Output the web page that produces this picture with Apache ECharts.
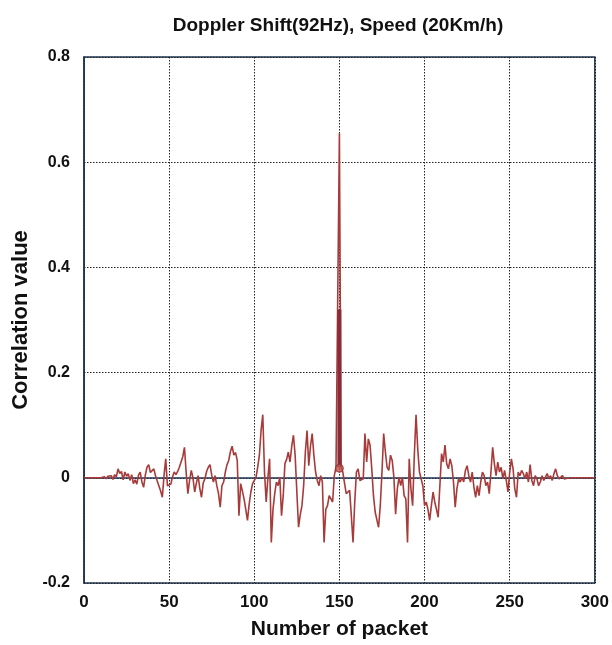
<!DOCTYPE html>
<html>
<head>
<meta charset="utf-8">
<script src="https://cdn.jsdelivr.net/npm/echarts@6/dist/echarts.min.js"></script>
<style>html,body{margin:0;padding:0;background:#fff;}#c{width:612px;height:645px;}</style>
</head>
<body>
<div id="c"></div>
<script>
// Correlation value for packets 0..300 (one value per packet)
const correlation = [
  0,0,0,0,0,0,0,0,0,0,0,0,
  0.002,-0.002,0.003,0.000,0.004,-0.003,0.006,0.002,0.017,0.008,
  0.012,-0.004,0.011,0.003,0.008,-0.005,0.006,-0.011,-0.004,-0.012,
  0.005,0.011,-0.008,-0.018,0.005,0.020,0.025,0.010,0.011,0.017,
  0.004,-0.006,-0.008,-0.025,-0.037,0.004,0.036,-0.015,-0.015,-0.012,
  0.002,0.011,0.006,0.012,0.020,0.030,0.040,0.058,0.010,-0.030,
  -0.005,0.014,0.000,-0.027,-0.010,0.004,-0.020,-0.037,-0.010,-0.002,
  0.012,0.020,0.025,0.005,-0.008,0.004,-0.015,-0.030,-0.056,-0.015,
  -0.008,0.011,0.025,0.033,0.050,0.060,0.043,0.048,0.033,-0.072,
  -0.011,-0.025,-0.040,-0.060,-0.081,-0.050,-0.027,-0.011,-0.008,
  0.001,0.020,0.043,0.090,0.120,0.011,-0.046,0.000,0.036,-0.123,
  -0.060,-0.030,-0.008,-0.015,0.001,-0.072,-0.034,0.027,0.035,0.049,
  0.030,0.060,0.081,0.043,-0.027,-0.094,-0.070,-0.053,-0.015,0.049,
  0.090,0.023,0.060,0.084,0.043,0.011,-0.005,-0.015,0.004,-0.008,
  -0.123,-0.060,-0.053,-0.034,-0.040,-0.046,0.004,0.020,0.023,
  0.655,
  0.020,0.011,-0.010,-0.030,-0.030,-0.024,-0.072,-0.123,-0.046,0.011,
  0.017,-0.005,-0.005,-0.002,0.084,0.030,0.074,0.062,0.017,-0.034,
  -0.065,-0.080,-0.094,-0.053,0.011,0.084,0.049,0.020,0.014,0.043,
  0.033,0.001,-0.069,-0.021,0.001,-0.015,0.001,-0.034,-0.040,-0.123,
  0.036,-0.021,-0.053,0.043,0.120,0.055,0.011,-0.002,-0.015,-0.053,
  -0.046,-0.060,-0.081,-0.053,-0.027,-0.046,-0.060,-0.075,-0.015,0.046,
  0.030,0.062,0.027,0.017,0.036,0.023,-0.008,-0.056,-0.021,-0.002,
  -0.008,0.001,-0.008,0.014,0.023,0.004,-0.008,0.011,-0.018,-0.037,
  -0.015,-0.034,-0.008,0.011,0.004,-0.015,-0.008,-0.030,0.011,0.058,
  0.027,0.004,0.030,0.011,0.020,-0.002,0.014,-0.005,-0.027,0.010,
  0.036,0.017,-0.021,-0.037,0.011,0.004,0.014,0.008,-0.002,0.011,
  -0.008,0.025,-0.005,-0.015,0.004,-0.002,-0.015,-0.008,0.004,-0.005,
  0.001,0.008,-0.002,0.004,-0.005,0.008,0.017,0.004,-0.002,0.001,
  0.004,-0.002,0.001,-0.001,0.001,
  0,0,0,0,0,0,0,0,0,0,0,0,0,0,0
];
const packets = correlation.map((_, i) => i);
// thick stem at the main peak
const stemX = [150, 150];
const stemY = [0.02, 0.32];
// circle marker near the peak base
const markerX = [150];
const markerY = [0.018];
// axis ranges / ticks
const xTicks = [0, 50, 100, 150, 200, 250, 300];
const yTicks = [-0.2, 0, 0.2, 0.4, 0.6, 0.8];

const chart = echarts.init(document.getElementById('c'));
const font = '"Liberation Sans", Arial, sans-serif';
chart.setOption({
  animation: false,
  backgroundColor: '#ffffff',
  title: {
    text: 'Doppler Shift(92Hz), Speed (20Km/h)',
    left: 333, top: 11, textAlign: 'center',
    textStyle: {fontFamily: font, fontWeight: 'bold', fontSize: 19, color: '#111'}
  },
  grid: {left: 84, right: 15, top: 57, bottom: 62, show: true, borderColor: '#1d3550', borderWidth: 1.5, backgroundColor: '#fff'},
  xAxis: {
    type: 'value', min: xTicks[0], max: xTicks[xTicks.length - 1], interval: 50,
    name: 'Number of packet', nameLocation: 'middle', nameGap: 36,
    nameTextStyle: {fontFamily: font, fontWeight: 'bold', fontSize: 21, color: '#111'},
    axisLine: {show: true, lineStyle: {color: '#1d3550', width: 1.5}},
    axisTick: {show: false},
    axisLabel: {fontFamily: font, fontWeight: 'bold', fontSize: 17, color: '#111', margin: 11},
    splitLine: {show: true, lineStyle: {type: [1.5, 1.5], color: '#222', width: 1}}
  },
  yAxis: {
    type: 'value', min: yTicks[0], max: yTicks[yTicks.length - 1], interval: 0.2,
    name: 'Correlation value', nameLocation: 'middle', nameGap: 50,
    nameTextStyle: {fontFamily: font, fontWeight: 'bold', fontSize: 22, color: '#111'},
    axisLine: {show: true, lineStyle: {color: '#1d3550', width: 1.5}},
    axisTick: {show: false},
    axisLabel: {fontFamily: font, fontWeight: 'bold', fontSize: 16, color: '#111', margin: 14,
      formatter: v => (Math.round(v * 10) / 10).toString()},
    splitLine: {show: true, lineStyle: {type: [1.5, 1.5], color: '#222', width: 1}}
  },
  series: [
    {
      type: 'line', data: packets.map((x, i) => [x, correlation[i]]),
      showSymbol: false, lineStyle: {color: '#a83a3a', width: 1.6}, z: 3
    },
    {
      type: 'line', data: stemX.map((x, i) => [x, stemY[i]]),
      showSymbol: false, lineStyle: {color: '#8a2b38', width: 4}, z: 4
    },
    {
      type: 'scatter', data: markerX.map((x, i) => [x, markerY[i]]),
      symbol: 'circle', symbolSize: 8,
      itemStyle: {color: '#c0504a', borderColor: '#8a2b38', borderWidth: 1}, z: 5
    }
  ]
});
</script>
</body>
</html>
